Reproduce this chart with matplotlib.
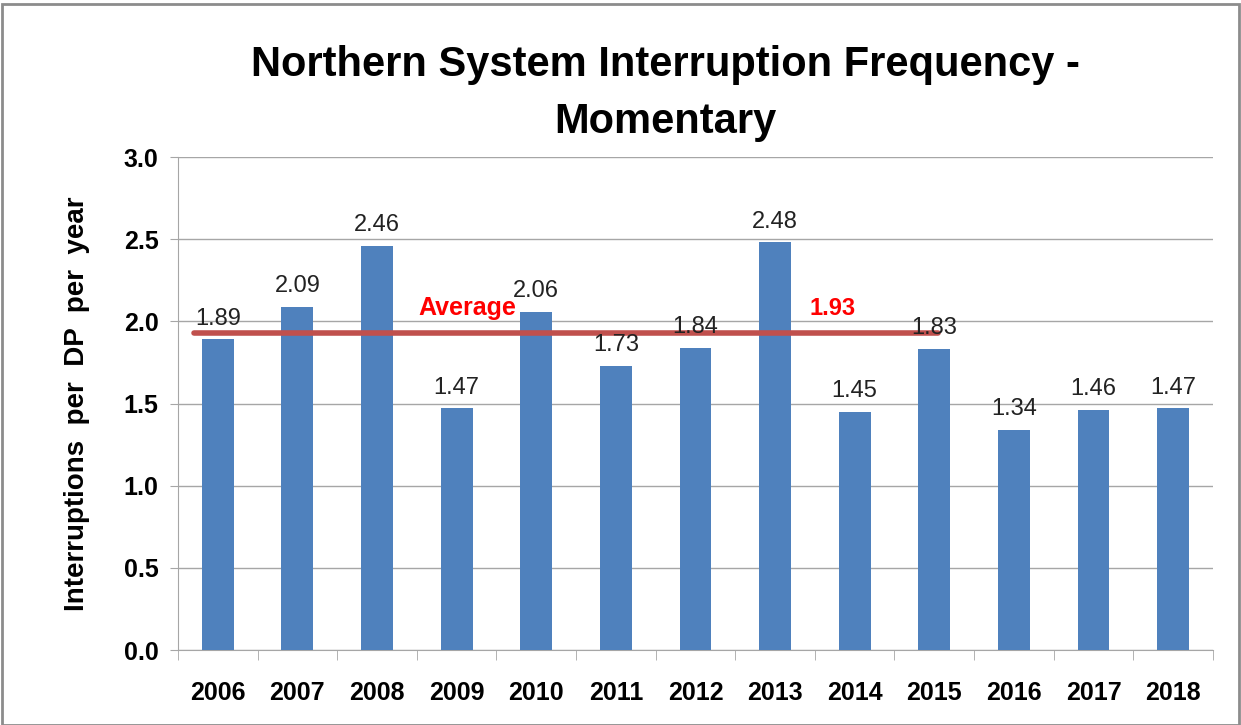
import numpy as np
import matplotlib.pyplot as plt

years = ["2006", "2007", "2008", "2009", "2010", "2011", "2012",
         "2013", "2014", "2015", "2016", "2017", "2018"]
values = [1.89, 2.09, 2.46, 1.47, 2.06, 1.73, 1.84, 2.48, 1.45, 1.83, 1.34, 1.46, 1.47]
average = 1.93
avg_start = 0
avg_end = 9

plt.rcParams['font.family'] = ['Liberation Sans', 'DejaVu Sans']

fig = plt.figure(figsize=(12.41, 7.25), dpi=100)
ax = fig.add_axes([0.1434, 0.1034, 0.834, 0.68])

x = np.arange(len(years))
bars = ax.bar(x, values, width=0.4, color="#4F81BD", zorder=3)

for xi, v in zip(x, values):
    ax.text(xi, v + 0.06, f"{v:.2f}", ha="center", va="bottom", fontsize=17,
            color="#222222", zorder=5)

# average line across 2006-2015
ax.plot([avg_start - 0.3, avg_end + 0.05], [average, average], color="#C0504D",
        linewidth=4, solid_capstyle="round", zorder=4)
ax.text(3.13, 2.08, "Average", color="red", fontsize=18, fontweight="bold",
        ha="center", va="center", zorder=6)
ax.text(7.72, 2.08, f"{average:.2f}", color="red", fontsize=17, fontweight="bold",
        ha="center", va="center", zorder=6)

ax.set_xlim(-0.5, len(years) - 0.5)
ax.set_ylim(0, 3.0)
ax.set_yticks(np.arange(0, 3.01, 0.5))
ax.set_yticklabels([f"{t:.1f}" for t in np.arange(0, 3.01, 0.5)], fontsize=18, fontweight="bold")
ax.yaxis.grid(True, color="#A6A6A6", linewidth=1, zorder=0)

ax.set_xticks(x)
ax.set_xticklabels(years, fontsize=18, fontweight="bold")
ax.set_xticks(np.arange(-0.5, len(years)), minor=True)
ax.tick_params(axis="x", which="major", length=0, pad=22)
ax.tick_params(axis="x", which="minor", length=7, color="#A6A6A6")
ax.tick_params(axis="y", length=6, color="#A6A6A6", pad=8)

for s in ["top", "right"]:
    ax.spines[s].set_visible(False)
for s in ["left", "bottom"]:
    ax.spines[s].set_color("#A6A6A6")

ax.set_ylabel("Interruptions  per  DP  per  year", fontsize=20, fontweight="bold", labelpad=24)

fig.text(0.536, 0.938, "Northern System Interruption Frequency -", ha="center", va="top",
         fontsize=30, fontweight="bold")
fig.text(0.536, 0.860, "Momentary", ha="center", va="top", fontsize=30, fontweight="bold")

# outer frame
frame = plt.Rectangle((0.002, 0.0), 0.996, 0.994, transform=fig.transFigure, fill=False,
                      edgecolor="#8C8C8C", linewidth=2)
fig.patches.append(frame)

fig.savefig("out.png", dpi=100)
